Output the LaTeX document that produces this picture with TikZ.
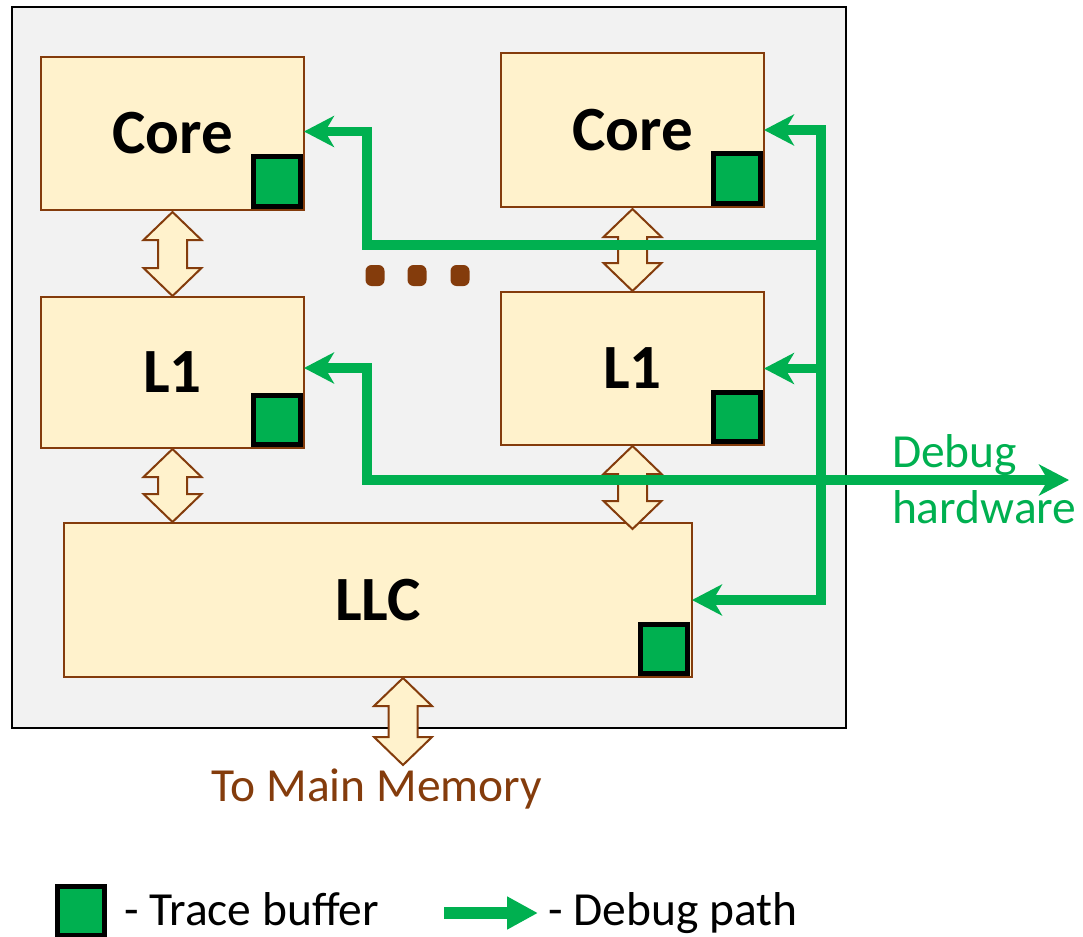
\documentclass[tikz,border=0pt]{standalone}
\usepackage{fontspec}
\setmainfont{Carlito}
\usetikzlibrary{arrows.meta,calc}
\definecolor{brn}{HTML}{843C0C}
\definecolor{boxfill}{HTML}{FFF2CC}
\definecolor{grn}{HTML}{00B050}
\definecolor{chipgray}{HTML}{F2F2F2}
\tikzset{
  unit/.style={draw=brn, line width=2pt, fill=boxfill, minimum width=263pt,
    inner sep=0pt, outer sep=0pt, font=\bfseries\fontsize{63}{70}\selectfont},
  tbuf/.style={draw=black, line width=5pt, fill=grn, minimum width=47pt,
    minimum height=49pt, inner sep=0pt, outer sep=0pt},
  blockarr/.style={draw=brn, line width=2pt, fill=boxfill, line join=miter},
  dbg/.style={draw=grn, line width=9.5pt, line join=miter},
  dtip/.tip={Stealth[length=30pt,width=31pt,inset=9pt]},
  dotsq/.style={fill=brn, rounded corners=6pt, minimum width=19pt,
    minimum height=21pt, inner sep=0pt},
  txt/.style={font=\fontsize{47.5}{56}\selectfont, inner sep=0pt, outer sep=0pt},
}
\newcommand\vblockarrow[2]{%
  \draw[blockarr] let \p1=(#1), \p2=(#2) in
    (\x1,\y1) -- (\x1+29pt,\y1-28pt) -- (\x1+14.5pt,\y1-28pt)
    -- (\x1+14.5pt,\y2+28pt) -- (\x1+29pt,\y2+28pt) -- (\x1,\y2)
    -- (\x1-29pt,\y2+28pt) -- (\x1-14.5pt,\y2+28pt)
    -- (\x1-14.5pt,\y1-28pt) -- (\x1-29pt,\y1-28pt) -- cycle;}
\begin{document}
\begin{tikzpicture}[x=1pt,y=-1pt]
\useasboundingbox (0,0) rectangle (1083,936);
% chip outline
\node[draw=black, line width=2.5pt, fill=chipgray, minimum width=834pt,
  minimum height=721pt, inner sep=0pt, outer sep=0pt] (chip) at (429,367.5) {};
% units
\node[unit, minimum height=153pt] (core1) at (172.5,133.5) {Core};
\node[unit, minimum height=154pt] (core2) at (632.5,130) {Core};
\node[unit, minimum height=151pt] (l1a) at (172.5,372.5) {L1};
\node[unit, minimum height=153pt] (l1b) at (632.5,368.5) {L1};
\node[unit, minimum width=628pt, minimum height=154pt] (llc) at (378,600) {LLC};
% trace buffers
\node[tbuf] (tb1) at ($(core1.south east)+(-27.5,-28.5)$) {};
\node[tbuf] (tb2) at ($(core2.south east)+(-27.5,-28.5)$) {};
\node[tbuf] (tb3) at ($(l1a.south east)+(-27.5,-28.5)$) {};
\node[tbuf] (tb4) at ($(l1b.south east)+(-27.5,-28.5)$) {};
\node[tbuf] (tb5) at ($(llc.south east)+(-28,-28.5)$) {};
% dots
\node[dotsq] (dot1) at (375,275.5) {};
\node[dotsq] (dot2) at (417,275.5) {};
\node[dotsq] (dot3) at (460,275.5) {};
% block arrows
\coordinate (mem) at (403,765);
\vblockarrow{[yshift=-2pt]core1.south}{[yshift=1pt]l1a.north}
\vblockarrow{[yshift=-2pt]core2.south}{[yshift=1pt]l1b.north}
\vblockarrow{[yshift=-1pt]l1a.south}{[yshift=1pt,xshift=94.5pt]llc.north west}
\vblockarrow{[yshift=-1pt]l1b.south}{[yshift=-6pt]llc.north -| l1b.south}
\vblockarrow{[xshift=25pt,yshift=-1pt]llc.south}{mem}
% debug paths
\coordinate (bus) at (821,130);
\coordinate (jc) at (367,245);
\coordinate (jl) at (367,480);
\coordinate (hw) at (1069,480);
\coordinate (c1in) at ([yshift=2pt]core1.east);
\coordinate (l1in) at ([yshift=4.5pt]l1a.east);
\draw[dbg, dtip-dtip] (core2.east) -- (bus) -- (bus |- llc.east) -- (llc.east);
\draw[dbg, -dtip] (bus |- l1b.east) -- (l1b.east);
\draw[dbg, -dtip] (bus |- jc) -- (jc) -- (jc |- c1in) -- (c1in);
\draw[dbg, dtip-dtip] (l1in) -- (jl |- l1in) -- (jl) -- (hw);
% labels
\node[txt, text=grn, anchor=base west] (dbgt1) at (892,467) {Debug};
\node[txt, text=grn, anchor=base west] (dbgt2) at (892,523) {hardware};
\node[txt, text=brn, anchor=base] (memt) at (377,801) {To Main Memory};
% legend
\node[tbuf] (lgtb) at (81,910.5) {};
\node[txt, anchor=base west] (lg1) at (124,925) {- Trace buffer};
\coordinate (la0) at (444,913);
\coordinate (la1) at (538,913);
\draw[grn, line width=12pt, -{Triangle[length=31pt,width=31pt]}] (la0) -- (la1);
\node[txt, anchor=base west] (lg2) at (548,925) {- Debug path};
\end{tikzpicture}
\end{document}
